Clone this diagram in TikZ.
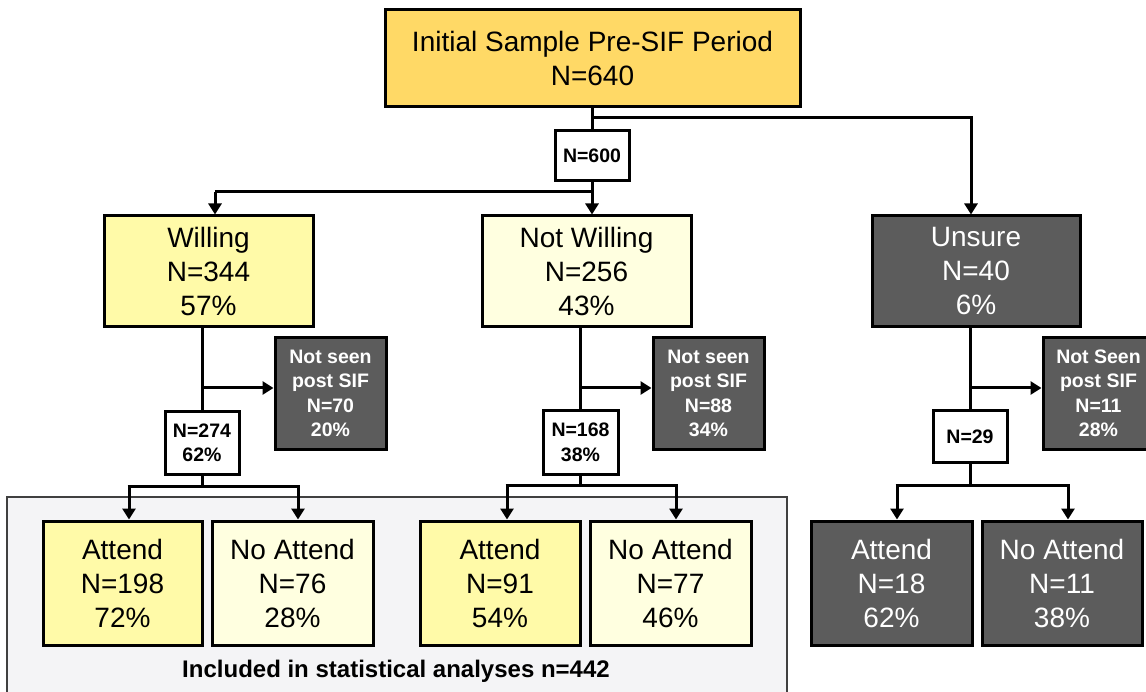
\documentclass[tikz,border=0pt]{standalone}
\usepackage{fontspec}
\setmainfont{Liberation Sans}
\usetikzlibrary{arrows.meta}
\definecolor{gold}{RGB}{255,217,102}
\definecolor{yel}{RGB}{255,250,168}
\definecolor{pale}{RGB}{255,255,224}
\definecolor{dark}{RGB}{92,92,92}
\definecolor{panel}{RGB}{244,244,246}
\tikzset{
  box/.style={draw=black, line width=3pt, align=center, inner sep=0pt,
    font=\fontsize{28}{34}\selectfont},
  smallbox/.style={draw=black, line width=3pt, align=center, inner sep=0pt,
    font=\bfseries\fontsize{19.5}{24.5}\selectfont},
  darkbox/.style={box, fill=dark, text=white},
  darksmall/.style={smallbox, fill=dark, text=white},
  conn/.style={line width=3pt},
  arr/.style={line width=3pt, -{Triangle[length=11pt,width=13pt]}},
}
\begin{document}
\begin{tikzpicture}[x=1pt,y=-1pt]
\useasboundingbox (0,0) rectangle (1146,692);
\clip (0,0) rectangle (1146,692);
% panel
\node[draw=black!75, line width=1.5pt, fill=panel, minimum width=780pt, minimum height=210pt, inner sep=0pt] (panel) at (397,602) {};
\node[font=\bfseries\fontsize{24}{28}\selectfont] (incl) at (396,671) {Included in statistical analyses n=442};
% nodes
\node[box, fill=gold, minimum width=415pt, minimum height=97pt] (top) at (592.5,58.5) {Initial Sample Pre-SIF Period\\N=640};
\node[smallbox, fill=white, minimum width=74pt, minimum height=50pt] (n600) at (592,156) {N=600};
\node[box, fill=yel, minimum width=209pt, minimum height=111pt] (will) at (208.5,271.5) {Willing\\N=344\\57\%};
\node[box, fill=pale, minimum width=209pt, minimum height=111pt] (notwill) at (586.5,271.5) {Not Willing\\N=256\\43\%};
\node[darkbox, minimum width=208pt, minimum height=111pt] (unsure) at (976,271.5) {Unsure\\N=40\\6\%};
\node[darksmall, minimum width=111pt, minimum height=111pt] (ns1) at (330.5,393.5) {Not seen\\post SIF\\N=70\\20\%};
\node[darksmall, minimum width=111pt, minimum height=111pt] (ns2) at (708.5,393.5) {Not seen\\post SIF\\N=88\\34\%};
\node[darksmall, minimum width=111pt, minimum height=111pt] (ns3) at (1098.5,393.5) {Not Seen\\post SIF\\N=11\\28\%};
\node[smallbox, fill=white, minimum width=74pt, minimum height=62pt] (n274) at (202,443) {N=274\\62\%};
\node[smallbox, fill=white, minimum width=75pt, minimum height=63pt] (n168) at (580.5,442.5) {N=168\\38\%};
\node[smallbox, fill=white, minimum width=74pt, minimum height=51pt] (n29) at (970,436.5) {N=29};
\node[box, fill=yel, minimum width=159pt, minimum height=124pt] (att1) at (122.5,583) {Attend\\N=198\\72\%};
\node[box, fill=pale, minimum width=161pt, minimum height=124pt] (noa1) at (292.5,583) {No Attend\\N=76\\28\%};
\node[box, fill=yel, minimum width=160pt, minimum height=124pt] (att2) at (500,583) {Attend\\N=91\\54\%};
\node[box, fill=pale, minimum width=161pt, minimum height=124pt] (noa2) at (670.5,583) {No Attend\\N=77\\46\%};
\node[darkbox, minimum width=161pt, minimum height=124pt] (att3) at (891.5,583) {Attend\\N=18\\62\%};
\node[darkbox, minimum width=160pt, minimum height=124pt] (noa3) at (1062,583) {No Attend\\N=11\\38\%};
% top connectors
\draw[conn] (top.south -| n600) -- (n600.north);
\draw[arr] (592,118) -| (unsure.north -| 971,0);
\draw[conn] (n600.south) -- (592,192) -- (215,192);
\draw[arr] (215,192) -- (will.north -| 215,0);
\draw[arr] (592,192) -- (notwill.north -| 592,0);
% willing branch
\draw[conn] (will.south -| n274) -- (n274.north);
\draw[arr] (202,388) -- (ns1.west |- 0,388);
\draw[conn] (n274.south) -- (202,486);
\draw[arr] (129,486) -- (att1.north -| 129,0);
\draw[arr] (298,486) -- (noa1.north -| 298,0);
\draw[conn] (127.5,486) -- (299.5,486);
% not willing branch
\draw[conn] (notwill.south -| n168) -- (n168.north);
\draw[arr] (580.5,388) -- (ns2.west |- 0,388);
\draw[conn] (n168.south) -- (580.5,485);
\draw[conn] (505.5,485) -- (677.5,485);
\draw[arr] (507,485) -- (att2.north -| 507,0);
\draw[arr] (676,485) -- (noa2.north -| 676,0);
% unsure branch
\draw[conn] (unsure.south -| n29) -- (n29.north);
\draw[arr] (970,388) -- (ns3.west |- 0,388);
\draw[conn] (n29.south) -- (970,485);
\draw[conn] (895.5,485) -- (1069.5,485);
\draw[arr] (897,485) -- (att3.north -| 897,0);
\draw[arr] (1068,485) -- (noa3.north -| 1068,0);
\end{tikzpicture}
\end{document}
